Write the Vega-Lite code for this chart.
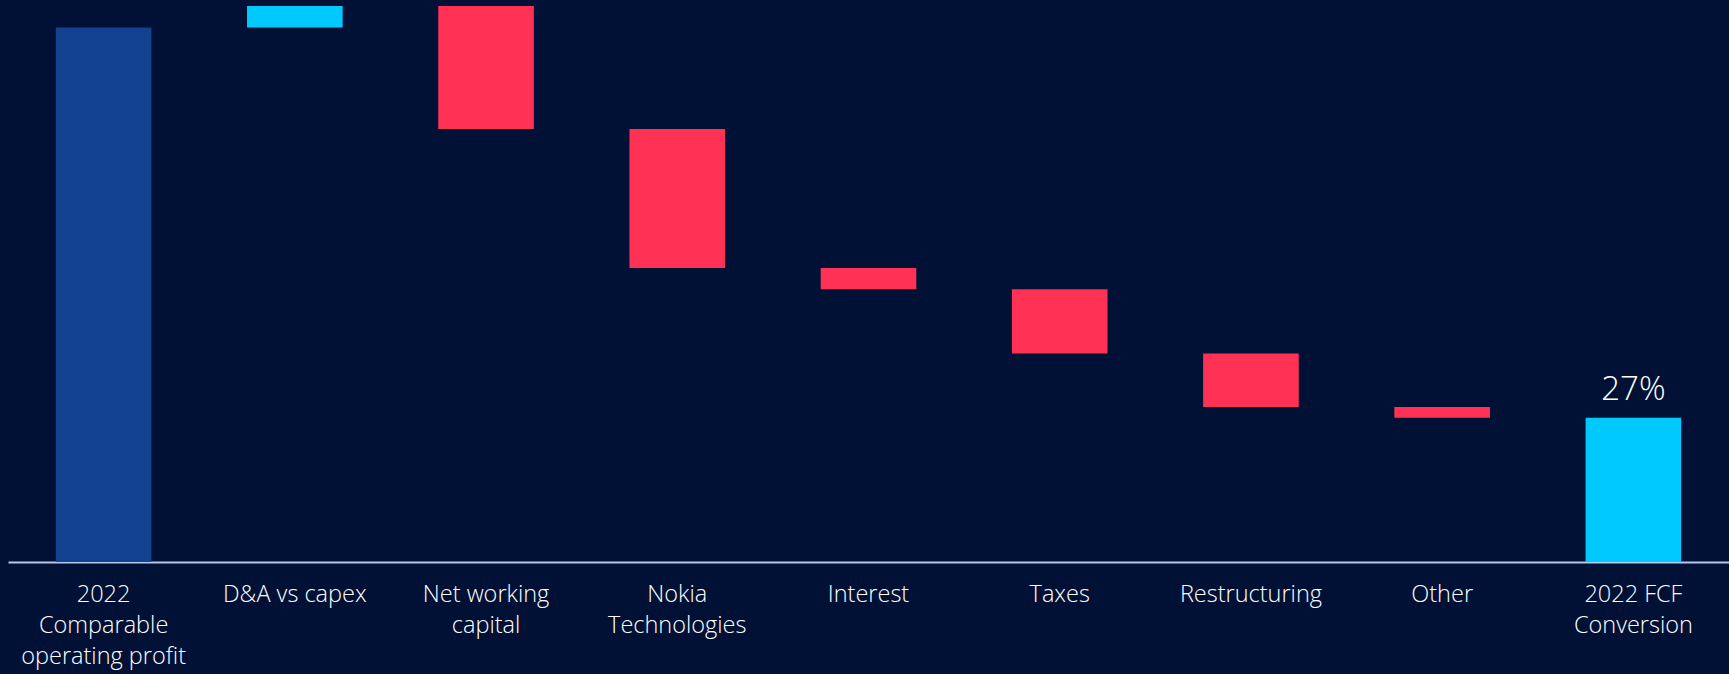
{
  "$schema": "https://vega.github.io/schema/vega-lite/v6.json",
  "width": 1721,
  "height": 556,
  "autosize": {"type": "none"},
  "padding": {"left": 8, "top": 6, "right": 0, "bottom": 112},
  "background": "#001135",
  "config": {
    "view": {"stroke": null},
    "font": "Open Sans"
  },
  "data": {
    "values": [
      {"category": "2022|Comparable|operating profit", "start": 0, "end": 100, "type": "total"},
      {"category": "D&A vs capex", "start": 100, "end": 104, "type": "increase"},
      {"category": "Net working|capital", "start": 104, "end": 81, "type": "decrease"},
      {"category": "Nokia|Technologies", "start": 81, "end": 55, "type": "decrease"},
      {"category": "Interest", "start": 55, "end": 51, "type": "decrease"},
      {"category": "Taxes", "start": 51, "end": 39, "type": "decrease"},
      {"category": "Restructuring", "start": 39, "end": 29, "type": "decrease"},
      {"category": "Other", "start": 29, "end": 27, "type": "decrease"},
      {"category": "2022 FCF|Conversion", "start": 0, "end": 27, "type": "result", "note": "27%"}
    ]
  },
  "encoding": {
    "x": {
      "field": "category",
      "type": "nominal",
      "sort": null,
      "scale": {"paddingInner": 0.5, "paddingOuter": 0.25},
      "axis": {
        "title": null,
        "labelAngle": 0,
        "labelExpr": "split(datum.label, '|')",
        "labelColor": "#ffffff",
        "labelFont": "Open Sans",
        "labelFontWeight": 300,
        "labelFontSize": 23.5,
        "labelLineHeight": 31,
        "labelBaseline": "top",
        "labelPadding": 20,
        "labelLimit": 0,
        "labelOverlap": false,
        "ticks": false,
        "tickSize": 0,
        "domainColor": "#b4c8f0",
        "domainWidth": 2,
        "grid": false
      }
    }
  },
  "layer": [
    {
      "mark": {"type": "bar"},
      "encoding": {
        "y": {"field": "start", "type": "quantitative", "scale": {"domain": [0, 104], "nice": false}, "axis": null},
        "y2": {"field": "end"},
        "color": {
          "field": "type",
          "type": "nominal",
          "scale": {"domain": ["total", "increase", "decrease", "result"], "range": ["#124191", "#00c9ff", "#ff3154", "#00c9ff"]},
          "legend": null
        }
      }
    },
    {
      "transform": [{"filter": "datum.note != null"}],
      "mark": {"type": "text", "color": "#ffffff", "font": "Open Sans", "fontWeight": 300, "fontSize": 33, "baseline": "alphabetic", "dy": -18},
      "encoding": {
        "y": {"field": "end", "type": "quantitative"},
        "text": {"field": "note"}
      }
    }
  ]
}
